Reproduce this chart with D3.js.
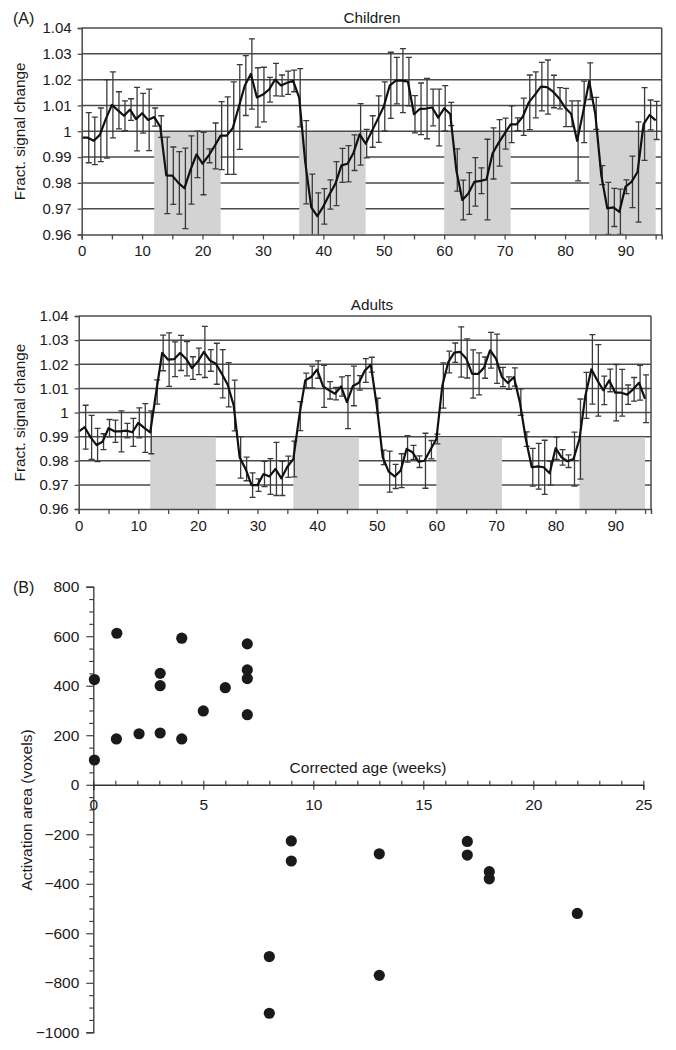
<!DOCTYPE html>
<html><head><meta charset="utf-8">
<script src="https://cdn.jsdelivr.net/npm/d3@7"></script>
<style>
body{margin:0;background:#fff}
svg{display:block;background:#fff}
text{font-family:"Liberation Sans",Arial,Helvetica,sans-serif;fill:#1a1a1a}
</style>
</head><body>
<svg id="chart" width="676" height="1050"></svg>
<script>
// ---------- DATA ----------
const seriesYTicks = [0.96, 0.97, 0.98, 0.99, 1.00, 1.01, 1.02, 1.03, 1.04];
const seriesYTickLabels = ["0.96", "0.97", "0.98", "0.99", "1", "1.01", "1.02", "1.03", "1.04"];
const seriesXTicks = [0, 5, 10, 15, 20, 25, 30, 35, 40, 45, 50, 55, 60, 65, 70, 75, 80, 85, 90, 95];
const seriesXLabelTicks = [0, 10, 20, 30, 40, 50, 60, 70, 80, 90];

const childrenMean = [0.9975,0.9975,0.9963,0.9986,1.0048,1.0102,1.0081,1.0060,1.0084,1.0047,
  1.0070,1.0044,1.0055,1.0018,0.9829,0.9828,0.9800,0.9779,0.9850,0.9910,
  0.9875,0.9905,0.9943,0.9983,0.9983,1.0012,1.0094,1.0177,1.0222,1.0131,
  1.0142,1.0161,1.0200,1.0177,1.0188,1.0195,1.0130,0.9880,0.9705,0.9671,
  0.9709,0.9755,0.9797,0.9868,0.9874,0.9917,0.9988,0.9952,0.9999,1.0047,
  1.0096,1.0178,1.0196,1.0196,1.0192,1.0066,1.0087,1.0088,1.0092,1.0053,
  1.0089,1.0067,0.9850,0.9734,0.9759,0.9804,0.9808,0.9813,0.9914,0.9955,
  0.9991,1.0027,1.0027,1.0056,1.0112,1.0141,1.0173,1.0171,1.0154,1.0128,
  1.0092,1.0068,0.9963,1.0075,1.0194,1.0069,0.9830,0.9701,0.9705,0.9688,
  0.9785,0.9804,0.9842,1.0028,1.0063,1.0042];
const childrenErr = [0,0.0097,0.0092,0.0104,0.0152,0.0128,0.0072,0.0058,0.0042,0.0123,
  0.0077,0.0119,0.0035,0.0042,0.0148,0.0111,0.0121,0.0156,0.0132,0.0090,
  0.0121,0.0027,0.0089,0.0132,0.0150,0.0179,0.0164,0.0116,0.0136,0.0115,
  0.0106,0.0048,0.0063,0.0041,0.0045,0.0042,0.0113,0.0161,0.0129,0.0090,
  0.0069,0.0057,0.0085,0.0066,0.0070,0.0069,0.0119,0.0055,0.0061,0.0090,
  0.0095,0.0128,0.0090,0.0124,0.0094,0.0072,0.0100,0.0117,0.0071,0.0110,
  0.0088,0.0045,0.0082,0.0077,0.0081,0.0094,0.0050,0.0156,0.0099,0.0090,
  0.0060,0.0071,0.0025,0.0072,0.0106,0.0089,0.0094,0.0105,0.0063,0.0041,
  0.0074,0.0050,0.0155,0.0119,0.0071,0.0062,0.0037,0.0101,0.0074,0.0088,
  0.0027,0.0100,0.0194,0.0141,0.0058,0.0074];
const childrenBlocks = [[12, 23], [36, 47], [60, 71], [84, 95]];
const childrenBlockRange = [0.96, 1.00];

const adultsMean = [0.9921,0.9939,0.9897,0.9865,0.9879,0.9935,0.9922,0.9922,0.9925,0.9918,
  0.9957,0.9936,0.9918,1.0085,1.0247,1.0219,1.0221,1.0247,1.0223,1.0184,
  1.0212,1.0251,1.0216,1.0202,1.0161,1.0115,1.0029,0.9814,0.9766,0.9699,
  0.9699,0.9745,0.9735,0.9766,0.9727,0.9775,0.9807,0.9985,1.0133,1.0147,
  1.0178,1.0108,1.0092,1.0078,1.0108,1.0043,1.0110,1.0123,1.0174,1.0198,
  1.0029,0.9814,0.9755,0.9735,0.9759,0.9849,0.9835,0.9796,0.9800,0.9846,
  0.9890,1.0112,1.0209,1.0248,1.0251,1.0224,1.0160,1.0160,1.0186,1.0258,
  1.0223,1.0147,1.0122,1.0147,1.0043,0.9890,0.9773,0.9777,0.9773,0.9748,
  0.9852,0.9814,0.9798,0.9807,0.9890,1.0071,1.0179,1.0133,1.0092,1.0133,
  1.0082,1.0082,1.0074,1.0096,1.0123,1.0057];
const adultsErr = [0,0.0091,0.0091,0.0069,0.0033,0.0036,0.0046,0.0085,0.0030,0.0058,
  0.0062,0.0101,0.0089,0.0050,0.0074,0.0111,0.0072,0.0073,0.0071,0.0047,
  0.0055,0.0106,0.0045,0.0085,0.0100,0.0092,0.0105,0.0086,0.0049,0.0051,
  0.0026,0.0052,0.0074,0.0110,0.0071,0.0044,0.0074,0.0060,0.0030,0.0045,
  0.0036,0.0087,0.0036,0.0026,0.0040,0.0110,0.0082,0.0030,0.0049,0.0031,
  0.0030,0.0030,0.0085,0.0050,0.0070,0.0055,0.0029,0.0024,0.0114,0.0038,
  0.0020,0.0094,0.0045,0.0040,0.0104,0.0081,0.0100,0.0087,0.0044,0.0074,
  0.0102,0.0040,0.0026,0.0038,0.0055,0.0030,0.0078,0.0095,0.0112,0.0049,
  0.0046,0.0032,0.0026,0.0112,0.0166,0.0095,0.0144,0.0148,0.0059,0.0047,
  0.0117,0.0097,0.0040,0.0049,0.0072,0.0099];
const adultsBlocks = [[12, 23], [36, 47], [60, 71], [84, 95]];
const adultsBlockRange = [0.96, 0.99];

const ageWeeks = [0.05,0.05,1.07,1.05,2.08,3.04,3.04,3.04,4.02,4.02,5,6,7,7,7,7,8,8,9,9,13,13,17,17,18,18,22];
const activationArea = [425,100,612,185,206,450,400,209,592,185,298,392,569,464,429,283,-694,-923,-227,-308,-279,-770,-229,-284,-351,-380,-520];
const scatterXTicks = [0, 5, 10, 15, 20, 25];
const scatterYTicks = [-1000, -800, -600, -400, -200, 0, 200, 400, 600, 800];

// ---------- DRAW ----------
const svg = d3.select("#chart");
const GRID = "#4a4a4a";

function drawPanel(o) {
  const g = svg.append("g");
  const x = d3.scaleLinear().domain([0, 96]).range([o.left, o.right]);
  const y = d3.scaleLinear().domain([0.96, 1.04]).range([o.bottom, o.top]);
  const clipId = "clip" + o.id;
  svg.append("clipPath").attr("id", clipId).append("rect")
    .attr("x", o.left).attr("y", o.top).attr("width", o.right - o.left).attr("height", o.bottom - o.top);

  // gridlines
  g.selectAll(".grid").data(seriesYTicks.slice(1)).join("line")
    .attr("x1", o.left).attr("x2", o.right)
    .attr("y1", d => y(d)).attr("y2", d => y(d))
    .attr("stroke", GRID).attr("stroke-width", 1.5);
  // right border
  g.append("line").attr("x1", o.right).attr("x2", o.right).attr("y1", o.top).attr("y2", o.bottom)
    .attr("stroke", GRID).attr("stroke-width", 1.5);
  // stimulus blocks
  g.selectAll(".blk").data(o.blocks).join("rect")
    .attr("x", d => x(d[0])).attr("width", d => x(d[1]) - x(d[0]))
    .attr("y", y(o.blockRange[1]) + 0.8).attr("height", y(o.blockRange[0]) - y(o.blockRange[1]) - 0.8)
    .attr("fill", "#d3d3d3");

  const pts = o.mean.map((m, i) => ({ i, m, e: o.err[i] }));
  const eb = g.append("g").attr("clip-path", `url(#${clipId})`)
    .attr("stroke", "#3a3a3a").attr("stroke-width", 1.3).attr("fill", "none");
  const withErr = pts.filter(p => p.e > 0);
  eb.selectAll(".v").data(withErr).join("line")
    .attr("x1", p => x(p.i) + 1).attr("x2", p => x(p.i) + 1)
    .attr("y1", p => y(p.m - p.e)).attr("y2", p => y(p.m + p.e));
  eb.selectAll(".t").data(withErr).join("line")
    .attr("x1", p => x(p.i) - 2).attr("x2", p => x(p.i) + 4)
    .attr("y1", p => y(p.m + p.e)).attr("y2", p => y(p.m + p.e));
  eb.selectAll(".b").data(withErr).join("line")
    .attr("x1", p => x(p.i) - 2).attr("x2", p => x(p.i) + 4)
    .attr("y1", p => y(p.m - p.e)).attr("y2", p => y(p.m - p.e));

  g.append("path").datum(pts)
    .attr("d", d3.line().x(p => x(p.i)).y(p => y(p.m)))
    .attr("fill", "none").attr("stroke", "#111").attr("stroke-width", 2.2)
    .attr("stroke-linejoin", "round");

  // axes
  const ya = g.append("g").attr("transform", `translate(${o.left},0)`)
    .call(d3.axisLeft(y).tickValues(seriesYTicks)
      .tickFormat((d, i) => seriesYTickLabels[i]).tickSize(4).tickPadding(6));
  const xa = g.append("g").attr("transform", `translate(0,${o.bottom})`)
    .call(d3.axisBottom(x).tickValues(seriesXTicks)
      .tickFormat(d => seriesXLabelTicks.includes(d) ? d : "").tickSize(5).tickPadding(6));
  [ya, xa].forEach(a => {
    a.select(".domain").attr("stroke", GRID).attr("stroke-width", 1.5);
    a.selectAll(".tick line").attr("stroke", GRID).attr("stroke-width", 1.3);
    a.selectAll("text").attr("font-size", 15).attr("fill", "#1a1a1a")
      .attr("font-family", '"Liberation Sans",Arial,sans-serif');
  });

  svg.append("text").attr("x", o.titleX).attr("y", o.titleY).attr("text-anchor", "middle")
    .attr("font-size", 15.3).text(o.title);
  svg.append("text")
    .attr("transform", `translate(${o.ylabX},${(o.top + o.bottom) / 2}) rotate(-90)`)
    .attr("text-anchor", "middle").attr("dy", "0.35em").attr("font-size", 15.3)
    .text("Fract. signal change");
}

drawPanel({ id: "c", left: 81.7, right: 661.7, top: 28, bottom: 234.5,
  mean: childrenMean, err: childrenErr, blocks: childrenBlocks, blockRange: childrenBlockRange,
  title: "Children", titleX: 372, titleY: 22.5, ylabX: 20 });
drawPanel({ id: "a", left: 78.7, right: 651, top: 316, bottom: 509,
  mean: adultsMean, err: adultsErr, blocks: adultsBlocks, blockRange: adultsBlockRange,
  title: "Adults", titleX: 372, titleY: 310, ylabX: 20 });

svg.append("text").attr("x", 13).attr("y", 24).attr("font-size", 16).text("(A)");
svg.append("text").attr("x", 13).attr("y", 593).attr("font-size", 16).text("(B)");

// ---------- Scatter (B) ----------
(function () {
  const g = svg.append("g");
  const x = d3.scaleLinear().domain([0, 25]).range([93.3, 643.3]);
  const y = d3.scaleLinear().domain([-1000, 800]).range([1032.3, 586.7]);
  const fmt = d => (d < 0 ? "\u2212" + Math.abs(d) : String(d));

  const ya = g.append("g").attr("transform", `translate(${x(0)},0)`)
    .call(d3.axisLeft(y).tickValues(scatterYTicks).tickFormat(fmt).tickSize(7).tickPadding(7));
  const yMinor = g.append("g").attr("transform", `translate(${x(0)},0)`)
    .call(d3.axisLeft(y).tickValues(d3.range(-1000, 801, 50).filter(v => v % 200 !== 0))
      .tickFormat("").tickSize(4));
  const xa = g.append("g").attr("transform", `translate(0,${y(0)})`)
    .call(d3.axisBottom(x).tickValues(scatterXTicks).tickSize(5).tickPadding(9));
  const xMinor = g.append("g").attr("transform", `translate(0,${y(0)})`)
    .call(d3.axisTop(x).tickValues(d3.range(0, 26, 1)).tickFormat("").tickSize(4));
  [ya, yMinor, xa, xMinor].forEach(a => {
    a.select(".domain").attr("stroke", "#333").attr("stroke-width", 1.3);
    a.selectAll(".tick line").attr("stroke", "#333").attr("stroke-width", 1.1);
    a.selectAll("text").attr("font-size", 15.5).attr("fill", "#1a1a1a")
      .attr("font-family", '"Liberation Sans",Arial,sans-serif');
  });
  xMinor.select(".domain").remove();
  yMinor.select(".domain").remove();

  g.selectAll(".dot").data(ageWeeks.map((a, i) => ({ a, v: activationArea[i] }))).join("circle")
    .attr("cx", d => x(d.a)).attr("cy", d => y(d.v)).attr("r", 5.6).attr("fill", "#1a1a1a");

  svg.append("text").attr("x", 368).attr("y", 772.5).attr("text-anchor", "middle")
    .attr("font-size", 15.5).text("Corrected age (weeks)");
  svg.append("text").attr("transform", "translate(27,810) rotate(-90)")
    .attr("text-anchor", "middle").attr("dy", "0.35em").attr("font-size", 15.5)
    .text("Activation area (voxels)");
})();
</script>
</body></html>
